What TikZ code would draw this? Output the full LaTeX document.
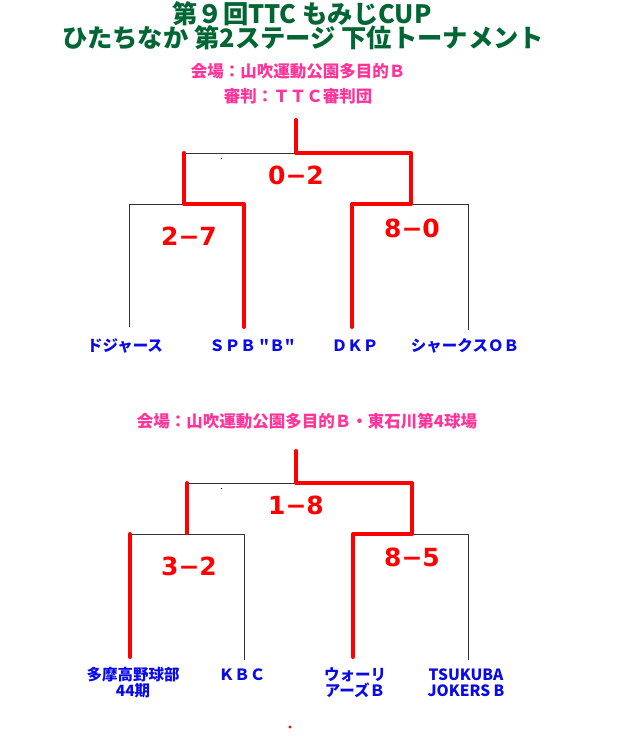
\documentclass[tikz,border=0pt]{standalone}
\usepackage{fontspec}
\newfontfamily\jpfont{Noto Sans CJK JP}
\newfontfamily\dvfont{DejaVu Sans}
\definecolor{ttlgreen}{HTML}{006633}
\definecolor{venuepink}{HTML}{FF3399}
\definecolor{teamblue}{HTML}{0A0AE8}
\definecolor{winred}{HTML}{FF0000}
\definecolor{linegray}{HTML}{333333}
\begin{document}
\begin{tikzpicture}[x=1pt,y=-1pt,
  titletext/.style={text=ttlgreen,font=\jpfont\bfseries\fontsize{25.3}{25.3}\selectfont,inner sep=0pt},
  venuetext/.style={text=venuepink,font=\jpfont\bfseries\fontsize{16.5}{16.5}\selectfont,inner sep=0pt},
  scoretext/.style={text=winred,font=\dvfont\bfseries\fontsize{25}{25}\selectfont,inner sep=0pt},
  teamtext/.style={text=teamblue,font=\jpfont\bfseries\fontsize{15.5}{16}\selectfont,inner sep=0pt,align=center},
  bracketline/.style={draw=linegray,line width=1pt},
  winline/.style={draw=winred,line width=4pt,line cap=round,line join=round}]
\useasboundingbox (0,0) rectangle (616,755);
\fill[white] (0,0) rectangle (616,755);

% titles
\node[titletext] (t1) at (302,14) {第９回TTC もみじCUP};
\node[titletext] (t2) at (303,38) {ひたちなか 第2ステージ 下位トーナメント};
\node[venuetext] (v1) at (298,71) {会場：山吹運動公園多目的Ｂ};
\node[venuetext] (v2) at (298,96) {審判：ＴＴＣ審判団};

% ---------- bracket 1 ----------
\coordinate (top1) at (296,120);
\coordinate (j1) at (296,153);
\coordinate (L1) at (184,153);
\coordinate (R1) at (411,153);
\coordinate (L1b) at (184,204);
\coordinate (R1b) at (411,204);
\coordinate (LL1) at (129,204);
\coordinate (LR1) at (244,204);
\coordinate (RL1) at (352,204);
\coordinate (RR1) at (468,204);
\coordinate (b1a) at (129,327);
\coordinate (b1b) at (244,327);
\coordinate (b1c) at (352,327);
\coordinate (b1d) at (468,330);

\draw[bracketline] (L1) -- (j1);
\draw[bracketline] (b1a) -- (LL1) -- (LR1);
\draw[bracketline] (RL1) -- (RR1) -- (b1d);
\fill[black] (221,158) rectangle (222,159);
\draw[winline] (top1) -- (j1) -- (R1) -- (R1b) -- (RL1) -- (b1c);
\draw[winline] (L1) -- (L1b) -- (LR1) -- (b1b);

\node[scoretext] (s1) at (296,175) {0−2};
\node[scoretext] (s2) at (189,236) {2−7};
\node[scoretext] (s3) at (412,228) {8−0};

\node[teamtext] (n1) at (125,346) {ドジャース};
\node[teamtext] (n2) at (252,346) {ＳＰＢ "Ｂ"};
\node[teamtext] (n3) at (355,346) {ＤＫＰ};
\node[teamtext] (n4) at (465,346) {シャークスＯＢ};

% ---------- bracket 2 ----------
\node[venuetext] (v3) at (307,421) {会場：山吹運動公園多目的Ｂ・東石川第4球場};

\coordinate (top2) at (296,451);
\coordinate (j2) at (296,483);
\coordinate (L2) at (187,483);
\coordinate (R2) at (412,483);
\coordinate (L2b) at (187,533);
\coordinate (R2b) at (412,534);
\coordinate (LL2) at (129,534);
\coordinate (LR2) at (244,534);
\coordinate (RL2) at (353,534);
\coordinate (RR2) at (468,534);
\coordinate (LL2r) at (130,534);
\coordinate (b2a) at (130,657);
\coordinate (b2b) at (244,660);
\coordinate (b2c) at (353,657);
\coordinate (b2d) at (468,660);

\draw[bracketline] (L2) -- (j2);
\draw[bracketline] (LL2) -- (LR2) -- (b2b);
\draw[bracketline] (RL2) -- (RR2) -- (b2d);
\fill[black] (221,488) rectangle (222,489);
\draw[winline] (top2) -- (j2) -- (R2) -- (R2b) -- (RL2) -- (b2c);
\draw[winline] (L2) -- (L2b);
\draw[winline] (LL2r) -- (b2a);

\node[scoretext] (s4) at (296,505) {1−8};
\node[scoretext] (s5) at (189,566) {3−2};
\node[scoretext] (s6) at (412,557) {8−5};

\node[teamtext] (m1) at (133,683) {多摩高野球部\\44期};
\node[teamtext] (m2) at (242,675) {ＫＢＣ};
\node[teamtext] (m3) at (355,683) {ウォーリ\\アーズＢ};
\node[teamtext] (m4) at (466,683) {TSUKUBA\\JOKERS B};

\fill[winred] (290,727) circle (1.6);
\end{tikzpicture}
\end{document}
